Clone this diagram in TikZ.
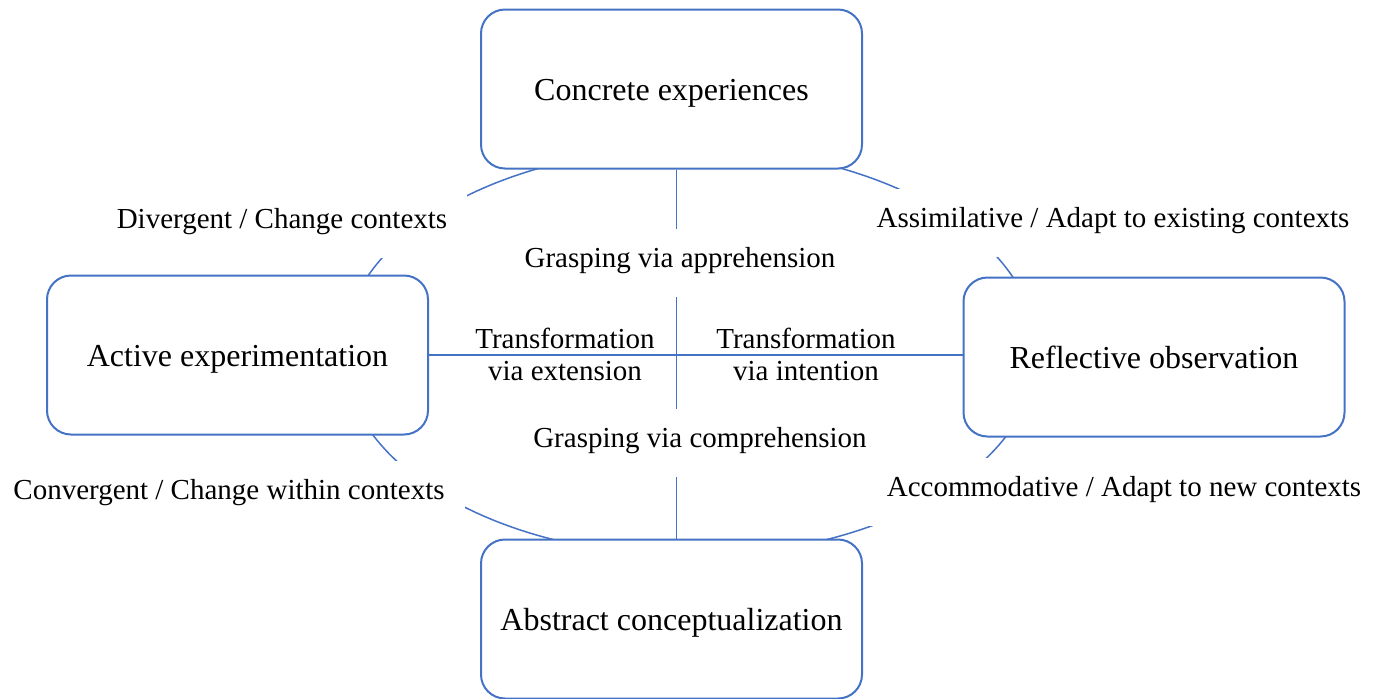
\documentclass[tikz,border=0pt]{standalone}
\usepackage{fontspec}
\setmainfont{Liberation Serif}
\usepackage{xcolor}
\usetikzlibrary{shapes,arrows,positioning}
\definecolor{cycleBlue}{RGB}{68, 114, 196}

\begin{document}
\begin{tikzpicture}[x=0.5pt, y=-0.5pt, node distance=184.5pt, thick]
    \tikzstyle{block} = [rectangle, draw=cycleBlue, fill=white, line width=1pt, rounded corners=12pt, minimum width=190.5pt, minimum height=79.5pt, text height=12pt, text depth=1pt, font=\fontsize{16}{19}\selectfont]
    \tikzstyle{gap} = [fill=white, inner xsep=10pt, inner ysep=0pt, text height=19pt, text depth=15pt, font=\fontsize{14.5}{17}\selectfont]
    \tikzstyle{axis} = [align=center, font=\fontsize{14.5}{16}\selectfont]
    \tikzstyle{line} = [draw, cycleBlue, line width=0.75pt]

    \useasboundingbox (0,0) rectangle (1382,698);

    % the cycle, mostly hidden behind boxes and labels
    \path [line] (690,352) ellipse [x radius=173.5pt, y radius=102pt];

    \node [block] (conc) at (671.5,89) {Concrete experiences};
    \node [block, below=of conc] (abst) {Abstract conceptualization};
    \node [block] (act) at (237.5,355) {Active experimentation};
    \node [block] (refl) at (1154,357) {Reflective observation};

    \path [line] ([xshift=2.5pt]conc.south) -- ([xshift=2.5pt]conc.south |- abst.north);
    \path [line] (act.east) -- (act.east -| refl.west);

    \node [gap] (appr) at (680,263) {Grasping via apprehension};
    \node [gap] (comp) at (700,443) {Grasping via comprehension};
    \node [gap] (div) at (282,224) {Divergent / Change contexts};
    \node [gap] (assim) at (1113,223) {Assimilative / Adapt to existing contexts};
    \node [gap] (conv) at (229,495) {Convergent / Change within contexts};
    \node [gap] (accom) at (1124,492) {Accommodative / Adapt to new contexts};

    \node [axis] (ext) at (565,354) {Transformation\\via extension};
    \node [axis] (int) at (806,354) {Transformation\\via intention};
\end{tikzpicture}
\end{document}
